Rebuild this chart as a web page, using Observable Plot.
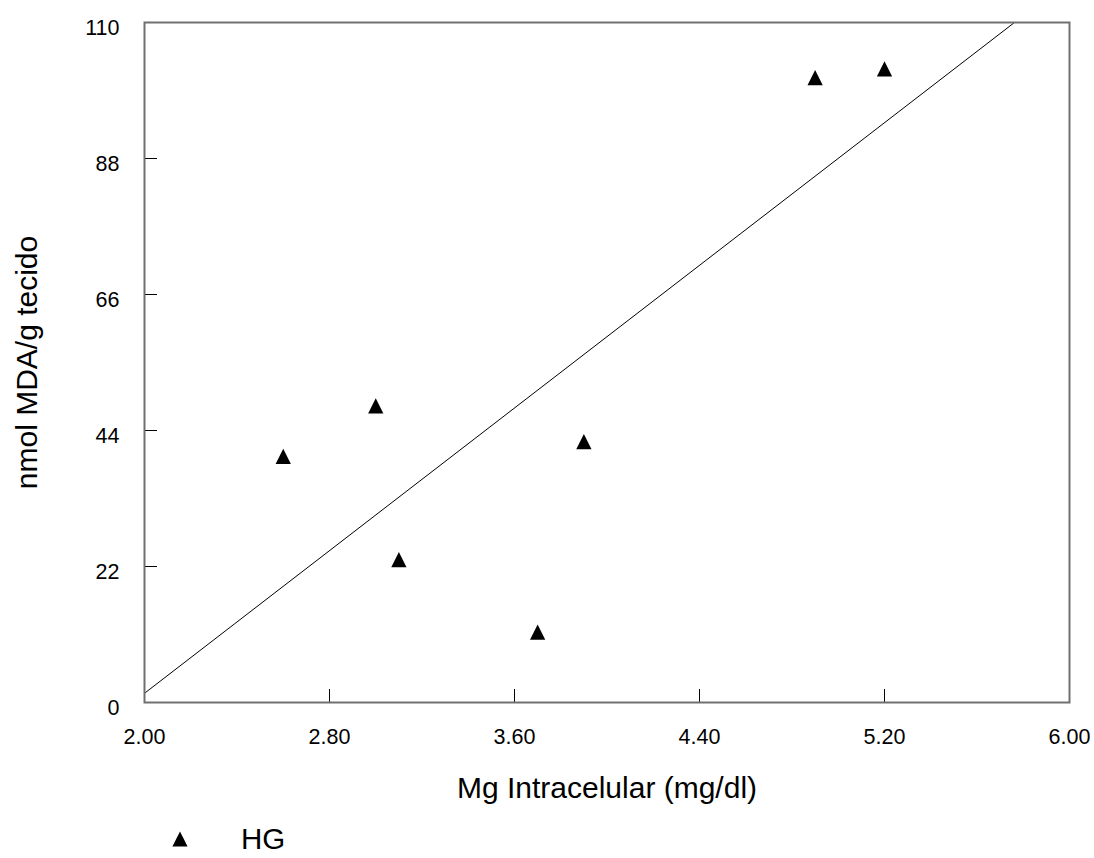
<!DOCTYPE html>
<html>
<head>
<meta charset="utf-8">
<script src="https://cdn.jsdelivr.net/npm/d3@7"></script>
<script src="https://cdn.jsdelivr.net/npm/@observablehq/plot@0.6"></script>
<style>
  html, body { margin: 0; padding: 0; background: #fff; }
  #wrap { position: relative; width: 1094px; height: 858px; font-family: Arial, "Liberation Sans", sans-serif; }
  #legend { position: absolute; left: 172px; top: 822px; display: flex; align-items: center; font-size: 29.5px; color: #000; }
  #legend svg { margin-right: 53px; }
</style>
</head>
<body>
<div id="wrap"><div id="chart"></div><div id="legend"></div></div>
<script>
// Data
const mgIntracelular = [2.6, 3.0, 3.1, 3.7, 3.9, 4.9, 5.2];
const mdaTecido      = [39.8, 48.0, 23.1, 11.4, 42.2, 101.1, 102.5];
const seriesName = "HG";
const xTicks = [2.0, 2.8, 3.6, 4.4, 5.2, 6.0];
const yTicks = [0, 22, 44, 66, 88, 110];
const xLabel = "Mg Intracelular (mg/dl)";
const yLabel = "nmol MDA/g tecido";

const points = mgIntracelular.map((x, i) => ({x, y: mdaTecido[i], series: seriesName}));

// Least-squares regression from the data
const mx = d3.mean(mgIntracelular), my = d3.mean(mdaTecido);
const slope = d3.sum(mgIntracelular, (x, i) => (x - mx) * (mdaTecido[i] - my)) /
              d3.sum(mgIntracelular, x => (x - mx) ** 2);
const intercept = my - slope * mx;
const xDomain = [xTicks[0], xTicks[xTicks.length - 1]];
const fitLine = xDomain.map(x => ({x, y: intercept + slope * x}));

// Upright triangle whose width equals its height
const triangleUp = {
  draw(ctx, size) {
    const s = Math.sqrt(size) / 2;
    ctx.moveTo(0, -s);
    ctx.lineTo(s, s);
    ctx.lineTo(-s, s);
    ctx.closePath();
  }
};

const W = 1094, H = 812;
const mL = 144, mR = 25, mT = 22, mB = H - 702;
const innerH = H - mT - mB;

const chart = Plot.plot({
  width: W,
  height: H,
  marginLeft: mL,
  marginRight: mR,
  marginTop: mT,
  marginBottom: mB,
  style: {fontFamily: "Arial, 'Liberation Sans', sans-serif", fontSize: "21.5px", color: "#000", background: "#fff"},
  x: {domain: xDomain, ticks: xTicks, tickFormat: d3.format(".2f")},
  y: {domain: [yTicks[0], yTicks[yTicks.length - 1]], ticks: yTicks},
  marks: [
    Plot.axisX({ticks: xTicks, tickFormat: d3.format(".2f"), tickSize: 0, tickPadding: 26, label: null, fontSize: 21.5}),
    Plot.axisY({ticks: yTicks, tickSize: 0, tickPadding: 25, dy: 5.5, label: null, fontSize: 21.5}),
    // inward ticks
    Plot.ruleX(xTicks.slice(1, -1), {insetTop: innerH - 13, stroke: "#000", strokeWidth: 1}),
    Plot.ruleY(yTicks.slice(1, -1), {insetRight: (W - mL - mR) - 13, stroke: "#000", strokeWidth: 1}),
    Plot.line(fitLine, {x: "x", y: "y", stroke: "#000", strokeWidth: 1, clip: true}),
    Plot.dot(points, {x: "x", y: "y", symbol: () => triangleUp, r: 8.6, fill: "#000", stroke: "none"}),
    Plot.frame({stroke: "#707070", strokeWidth: 2}),
    Plot.text([xLabel], {frameAnchor: "bottom", lineAnchor: "bottom", dy: 95, fontSize: 30, fill: "#000"}),
    Plot.text([yLabel], {frameAnchor: "left", textAnchor: "middle", lineAnchor: "bottom", rotate: -90, dx: -108, dy: 0, fontSize: 30, fill: "#000"})
  ]
});
document.getElementById("chart").appendChild(chart);

// Legend below the SVG
const legend = document.getElementById("legend");
const sw = d3.create("svg").attr("width", 16).attr("height", 16);
sw.append("path").attr("d", "M8,0.5L15.6,15.6L0.4,15.6Z").attr("fill", "#000");
legend.appendChild(sw.node());
const lab = document.createElement("span");
lab.textContent = seriesName;
legend.appendChild(lab);
</script>
</body>
</html>
